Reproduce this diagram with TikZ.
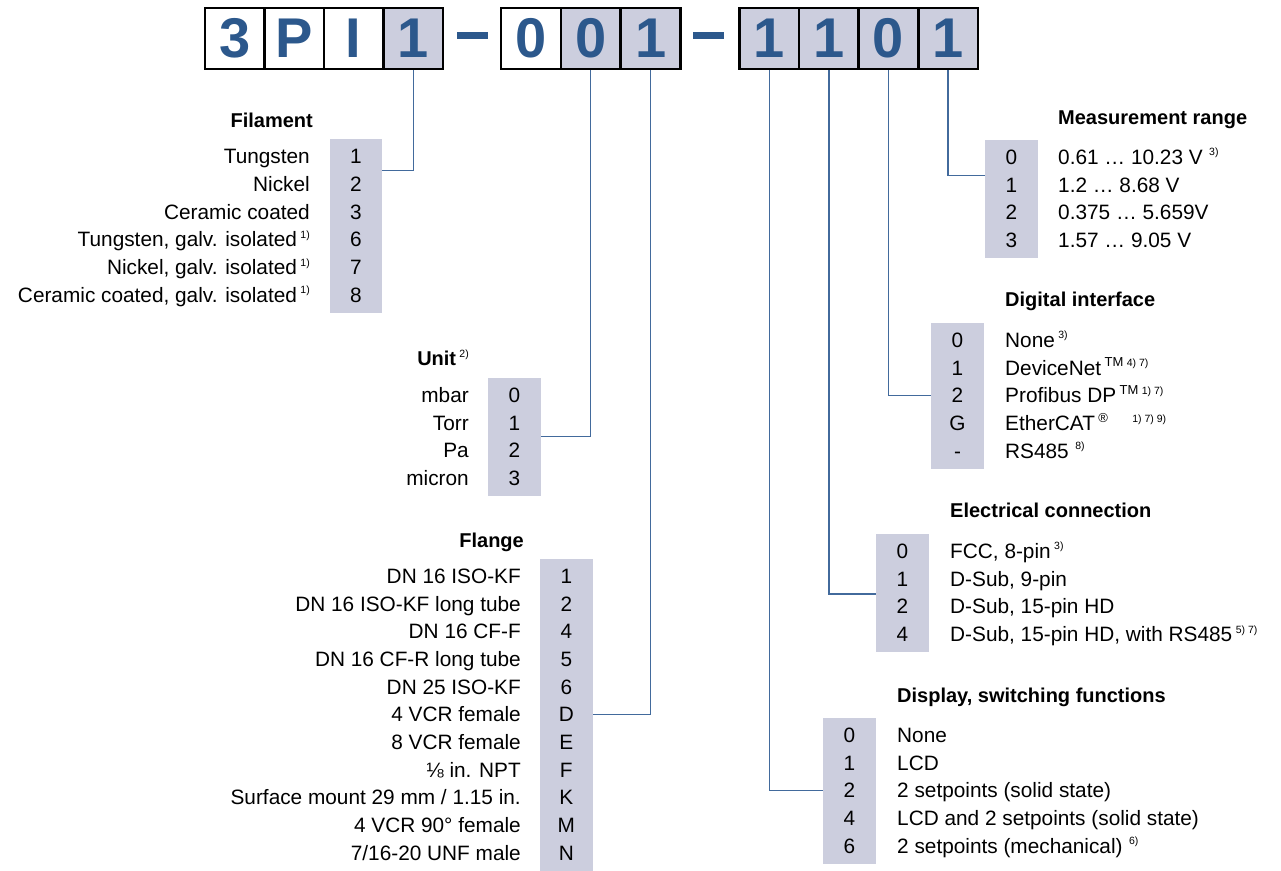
\documentclass[tikz,border=0pt]{standalone}
\usepackage{fontspec}
\setmainfont{Liberation Sans}
\usetikzlibrary{positioning,calc}

\definecolor{codeblue}{RGB}{44,88,140}
\definecolor{linkblue}{RGB}{66,106,156}
\definecolor{codegray}{RGB}{204,206,222}

\newcommand{\fnote}[1]{\,\raisebox{.4em}{\normalfont\fontsize{10.5}{10.5}\selectfont #1}}
\newcommand{\tmark}[1]{\,\raisebox{.4em}{\fontsize{13}{13}\selectfont #1}}

\begin{document}
\begin{tikzpicture}[x=1pt, y=-1pt,
    digit/.style={draw, line width=2.4pt, minimum width=59.5pt, minimum height=61pt,
        inner sep=0pt, text=codeblue, font=\fontsize{56}{56}\selectfont\bfseries},
    picked/.style={digit, fill=codegray},
    bar/.style={fill=codeblue, minimum width=30.5pt, minimum height=7.3pt, inner sep=0pt},
    column/.style={fill=codegray, inner sep=0pt, minimum width=52.5pt, anchor=north},
    entry/.style={font=\fontsize{20.8}{24}\selectfont, text height=14.6pt, text depth=0pt, inner sep=0pt},
    head/.style={font=\fontsize{20}{24}\selectfont\bfseries, text height=14.3pt, text depth=0pt, inner sep=0pt},
    link/.style={draw=linkblue, line width=1.3pt}]

    \useasboundingbox (0,0) rectangle (1281,870);

    % order code
    \node[digit]  (a1) at (234.7,38.6) {3};
    \node[digit]  (a2) at (294.2,38.6) {P};
    \node[digit]  (a3) at (353.7,38.6) {I};
    \node[picked] (a4) at (413.2,38.6) {1};
    \node[bar]    (bar1) at (472.5,35.3) {};
    \node[digit]  (b1) at (531.0,38.6) {0};
    \node[picked] (b2) at (590.8,38.6) {0};
    \node[picked] (b3) at (650.6,38.6) {1};
    \node[bar]    (bar2) at (708.7,35.3) {};
    \node[picked] (c1) at (769.3,38.6) {1};
    \node[picked] (c2) at (828.9,38.6) {1};
    \node[picked] (c3) at (888.5,38.6) {0};
    \node[picked] (c4) at (948.1,38.6) {1};

    % filament
    \node[head, anchor=east] (filhead) at (313,120) {Filament};
    \node[column, minimum height=173.5pt] (filcol) at (356,139) {};
    \foreach \n/\t [count=\i] in {1/Tungsten, 2/Nickel, 3/Ceramic coated,
        6/{Tungsten, galv. isolated\fnote{1)}}, 7/{Nickel, galv. isolated\fnote{1)}},
        8/{Ceramic coated, galv. isolated\fnote{1)}}} {
        \node[entry] (fil\i) at (356,156.5+27.7*\i-27.7) {\n};
        \node[entry, anchor=east] (filtxt\i) at (310,156.5+27.7*\i-27.7) {\t};
    }

    % unit
    \node[head, anchor=east] (unithead) at (469,358) {Unit\fnote{2)}};
    \node[column, minimum height=118.1pt] (unitcol) at (514.5,377.5) {};
    \foreach \n/\t [count=\i] in {0/mbar, 1/Torr, 2/Pa, 3/micron} {
        \node[entry] (unit\i) at (514.5,395+27.7*\i-27.7) {\n};
        \node[entry, anchor=east] (unittxt\i) at (469,395+27.7*\i-27.7) {\t};
    }

    % flange
    \node[head, anchor=east] (flahead) at (524,540) {Flange};
    \node[column, minimum height=312pt] (flacol) at (566.3,558.5) {};
    \foreach \n/\t [count=\i] in {1/DN 16 ISO-KF, 2/DN 16 ISO-KF long tube, 4/DN 16 CF-F,
        5/DN 16 CF-R long tube, 6/DN 25 ISO-KF, D/4 VCR female, E/8 VCR female,
        F/{⅛ in. NPT}, K/{Surface mount 29 mm / 1.15 in.}, M/4 VCR 90° female,
        N/{7/16-20 UNF male}} {
        \node[entry] (fla\i) at (566.3,576+27.7*\i-27.7) {\n};
        \node[entry, anchor=east] (flatxt\i) at (521,576+27.7*\i-27.7) {\t};
    }

    % measurement range
    \node[head, anchor=west] (meashead) at (1058,117) {Measurement range};
    \node[column, minimum height=118.1pt] (meascol) at (1011.3,139.5) {};
    \foreach \n/\t [count=\i] in {0/{0.61 … 10.23 V\hspace{3pt}\fnote{3)}}, 1/1.2 … 8.68 V,
        2/0.375 … 5.659V, 3/1.57 … 9.05 V} {
        \node[entry] (meas\i) at (1011.3,157+27.7*\i-27.7) {\n};
        \node[entry, anchor=west] (meastxt\i) at (1058,157+27.7*\i-27.7) {\t};
    }

    % digital interface
    \node[head, anchor=west] (dighead) at (1005,299) {Digital interface};
    \node[column, minimum height=145.8pt] (digcol) at (957.5,322.5) {};
    \foreach \n/\t [count=\i] in {0/{None\fnote{3)}}, 1/{DeviceNet\tmark{TM}\fnote{4) 7)}},
        2/{Profibus DP\tmark{TM}\fnote{1) 7)}}, G/{EtherCAT\tmark{®}\quad\fnote{1) 7) 9)}},
        -/{RS485\hspace{3pt}\fnote{8)}}} {
        \node[entry] (dig\i) at (957.5,340+27.7*\i-27.7) {\n};
        \node[entry, anchor=west] (digtxt\i) at (1005,340+27.7*\i-27.7) {\t};
    }

    % electrical connection
    \node[head, anchor=west] (elehead) at (950,510) {Electrical connection};
    \node[column, minimum height=118.1pt] (elecol) at (902.5,533.5) {};
    \foreach \n/\t [count=\i] in {0/{FCC, 8-pin\fnote{3)}}, 1/{D-Sub, 9-pin},
        2/{D-Sub, 15-pin HD}, 4/{D-Sub, 15-pin HD, with RS485\fnote{5) 7)}}} {
        \node[entry] (ele\i) at (902.5,551+27.7*\i-27.7) {\n};
        \node[entry, anchor=west] (eletxt\i) at (950,551+27.7*\i-27.7) {\t};
    }

    % display, switching functions
    \node[head, anchor=west] (disphead) at (897,695) {Display, switching functions};
    \node[column, minimum height=145.8pt] (dispcol) at (849.5,717.5) {};
    \foreach \n/\t [count=\i] in {0/None, 1/LCD, 2/2 setpoints (solid state),
        4/LCD and 2 setpoints (solid state), 6/{2 setpoints (mechanical)\hspace{3pt}\fnote{6)}}} {
        \node[entry] (disp\i) at (849.5,735+27.7*\i-27.7) {\n};
        \node[entry, anchor=west] (disptxt\i) at (897,735+27.7*\i-27.7) {\t};
    }

    % connectors
    \coordinate (filin)  at ($(filcol.east |- fil1)!.5!(filcol.east |- fil2)$);
    \coordinate (unitin) at ($(unitcol.east |- unit2)!.5!(unitcol.east |- unit3)$);
    \coordinate (measin) at ($(meascol.west |- meas1)!.68!(meascol.west |- meas2)$);
    \coordinate (elein)  at ($(elecol.west |- ele2)!.55!(elecol.west |- ele3)$);
    \draw[link] (a4.south) |- (filin);
    \draw[link] (b2.south) |- (unitin);
    \draw[link] (b3.south) |- (flacol.east |- fla6);
    \draw[link] (c1.south) |- (dispcol.west |- disp3);
    \draw[link] (c2.south) |- (elein);
    \draw[link] (c3.south) |- (digcol.west |- dig3);
    \draw[link] (c4.south) |- (measin);
\end{tikzpicture}
\end{document}
